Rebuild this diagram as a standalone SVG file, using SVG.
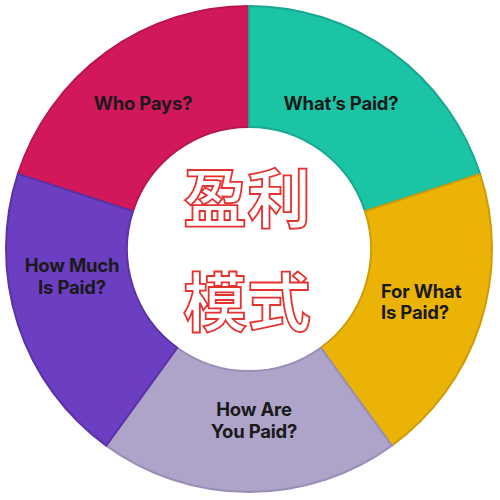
<svg xmlns="http://www.w3.org/2000/svg" width="500" height="500" viewBox="0 0 500 500">
<style>
.seg{stroke-width:2;stroke-linejoin:round}
.lbl{font-family:Inter,"Liberation Sans",sans-serif;font-weight:700;font-size:18.5px;fill:#1a1a1a;text-anchor:middle;letter-spacing:-0.2px}
.cn{font-family:"Noto Sans CJK SC",sans-serif;font-weight:700;font-size:64px;fill:#fff;stroke:#e5322f;stroke-width:1.8;text-anchor:middle}
</style>
<rect width="500" height="500" fill="#fff"/>
<g id="who-pays">
<path class="seg" fill="#d3175b" stroke="#b81550" d="M17.89,173.91 A243,243 0 0 1 249,6 L249,127 A122,122 0 0 0 132.97,211.3 Z"/>
<text class="lbl" x="143" y="110">Who Pays?</text>
</g>
<g id="whats-paid">
<path class="seg" fill="#1cc4a6" stroke="#17a88f" d="M249,6 A243,243 0 0 1 480.11,173.91 L365.03,211.3 A122,122 0 0 0 249,127 Z"/>
<text class="lbl" x="341" y="110">What’s Paid?</text>
</g>
<g id="for-what">
<path class="seg" fill="#eab305" stroke="#cf9c08" d="M480.11,173.91 A243,243 0 0 1 391.83,445.59 L320.71,347.7 A122,122 0 0 0 365.03,211.3 Z"/>
<text class="lbl" x="381" y="298" style="text-anchor:start">For What</text>
<text class="lbl" x="381" y="319" style="text-anchor:start">Is Paid?</text>
</g>
<g id="how-are">
<path class="seg" fill="#aea3c8" stroke="#9a8eb8" d="M391.83,445.59 A243,243 0 0 1 106.17,445.59 L177.29,347.7 A122,122 0 0 0 320.71,347.7 Z"/>
<text class="lbl" x="254" y="416">How Are</text>
<text class="lbl" x="254" y="438">You Paid?</text>
</g>
<g id="how-much">
<path class="seg" fill="#6c3ec1" stroke="#5a32a8" d="M106.17,445.59 A243,243 0 0 1 17.89,173.91 L132.97,211.3 A122,122 0 0 0 177.29,347.7 Z"/>
<text class="lbl" x="72" y="272">How Much</text>
<text class="lbl" x="72" y="294">Is Paid?</text>
</g>
<g id="center">
<text class="cn" x="247" y="222">盈利</text>
<text class="cn" x="247" y="326">模式</text>
</g>
</svg>
